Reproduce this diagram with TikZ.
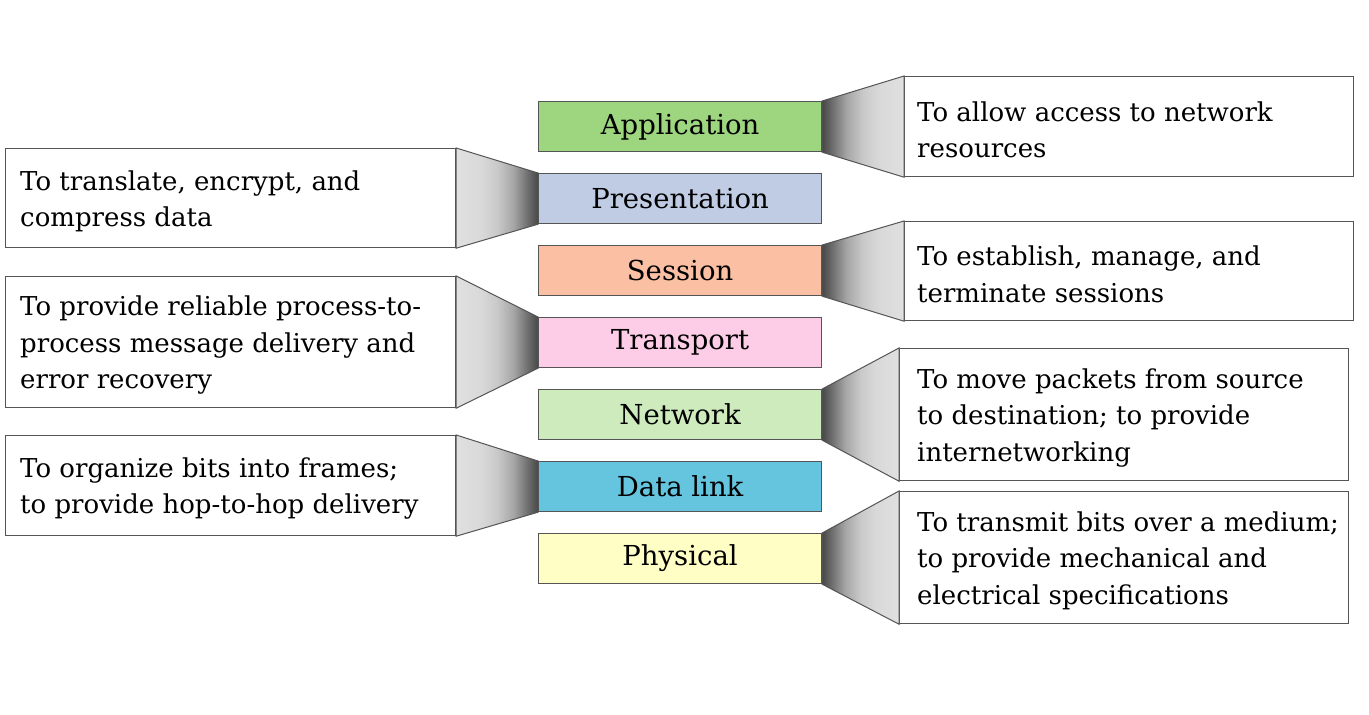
\documentclass[tikz,border=0pt]{standalone}
\usepackage{fontspec}
\setmainfont{DejaVu Serif}
\begin{document}
\pgfdeclarehorizontalshading{trapR}{100bp}{color(0bp)=(black!72); color(25bp)=(black!72); color(32bp)=(black!55); color(40bp)=(black!35); color(50bp)=(black!21); color(60bp)=(black!15); color(75bp)=(black!12); color(100bp)=(black!12)}
\pgfdeclarehorizontalshading{trapL}{100bp}{color(0bp)=(black!12); color(25bp)=(black!12); color(40bp)=(black!15); color(50bp)=(black!21); color(60bp)=(black!35); color(68bp)=(black!55); color(75bp)=(black!72); color(100bp)=(black!72)}
\definecolor{cApp}{HTML}{9DD67F}
\definecolor{cPre}{HTML}{BFCCE4}
\definecolor{cSes}{HTML}{FBC0A4}
\definecolor{cTra}{HTML}{FDCCE6}
\definecolor{cNet}{HTML}{CDEBBD}
\definecolor{cDat}{HTML}{65C5DF}
\definecolor{cPhy}{HTML}{FFFEC4}
\definecolor{edge}{HTML}{555555}
\begin{tikzpicture}[x=1pt,y=-1pt,
  layer/.style={draw=edge, line width=1.2pt, minimum width=283pt, minimum height=50pt, inner sep=0pt, anchor=north west, font=\fontsize{27.5}{30}\selectfont},
  desc/.style={draw=edge, line width=1.2pt, fill=white, inner sep=0pt, anchor=north west},
  desctext/.style={align=left, inner sep=0pt, anchor=west, font=\fontsize{26}{36.5}\selectfont},
  trapr/.style={shading=trapR, draw=edge, line width=1pt},
  trapl/.style={shading=trapL, draw=edge, line width=1pt}]
\useasboundingbox (0,0) rectangle (1369,715);
\fill[white] (0,0) rectangle (1369,715);
% layers
\node[layer, fill=cApp] (app) at (538,101) {Application};
\node[layer, fill=cPre] (pre) at (538,173) {Presentation};
\node[layer, fill=cSes] (ses) at (538,245) {Session};
\node[layer, fill=cTra] (tra) at (538,317) {Transport};
\node[layer, fill=cNet] (net) at (538,389) {Network};
\node[layer, fill=cDat] (dat) at (538,461) {Data link};
\node[layer, fill=cPhy] (phy) at (538,533) {Physical};
% description boxes
\node[desc, minimum width=449pt, minimum height=100pt] (dApp) at (904,76) {};
\node[desc, minimum width=449pt, minimum height=99pt] (dSes) at (904,221) {};
\node[desc, minimum width=449pt, minimum height=132pt] (dNet) at (899,348) {};
\node[desc, minimum width=449pt, minimum height=132pt] (dPhy) at (899,491) {};
\node[desc, minimum width=450pt, minimum height=99pt] (dPre) at (5,148) {};
\node[desc, minimum width=450pt, minimum height=131pt] (dTra) at (5,276) {};
\node[desc, minimum width=450pt, minimum height=100pt] (dDat) at (5,435) {};
% trapezoids
\path[trapr] (app.north east) -- (dApp.north west) -- (dApp.south west) -- (app.south east) -- cycle;
\path[trapr] (ses.north east) -- (dSes.north west) -- (dSes.south west) -- (ses.south east) -- cycle;
\path[trapr] (net.north east) -- (dNet.north west) -- (dNet.south west) -- (net.south east) -- cycle;
\path[trapr] (phy.north east) -- (dPhy.north west) -- (dPhy.south west) -- (phy.south east) -- cycle;
\path[trapl] (pre.north west) -- (dPre.north east) -- (dPre.south east) -- (pre.south west) -- cycle;
\path[trapl] (tra.north west) -- (dTra.north east) -- (dTra.south east) -- (tra.south west) -- cycle;
\path[trapl] (dat.north west) -- (dDat.north east) -- (dDat.south east) -- (dat.south west) -- cycle;
% texts
\node[desctext] (tApp) at ([xshift=13pt,yshift=-3pt]dApp.west) {To allow access to network\\resources};
\node[desctext] (tSes) at ([xshift=13pt,yshift=-3pt]dSes.west) {To establish, manage, and\\terminate sessions};
\node[desctext] (tNet) at ([xshift=18pt,yshift=-3pt]dNet.west) {To move packets from source\\to destination; to provide\\internetworking};
\node[desctext] (tPhy) at ([xshift=18pt,yshift=-3pt]dPhy.west) {To transmit bits over a medium;\\to provide mechanical and\\electrical specifications};
\node[desctext] (tPre) at ([xshift=15pt,yshift=-3pt]dPre.west) {To translate, encrypt, and\\compress data};
\node[desctext] (tTra) at ([xshift=15pt,yshift=-3pt]dTra.west) {To provide reliable process-to-\\process message delivery and\\error recovery};
\node[desctext] (tDat) at ([xshift=15pt,yshift=-3pt]dDat.west) {To organize bits into frames;\\to provide hop-to-hop delivery};
\end{tikzpicture}
\end{document}
